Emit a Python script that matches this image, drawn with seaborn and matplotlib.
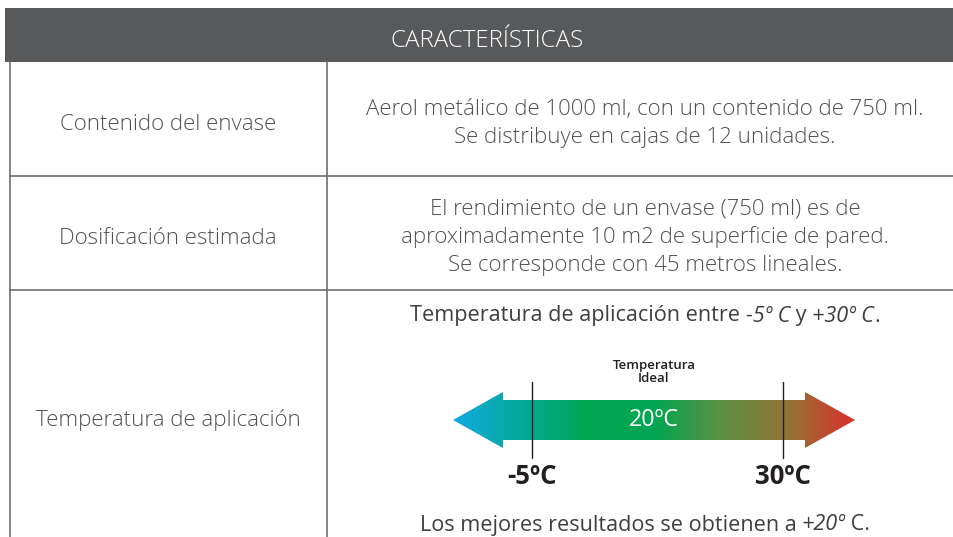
import matplotlib
matplotlib.use("Agg")
import matplotlib.pyplot as plt
import numpy as np
import seaborn as sns
from matplotlib.patches import Polygon, Rectangle

# datos de la tabla
encabezado = "CARACTERÍSTICAS"
filas = ["Contenido del envase", "Dosificación estimada", "Temperatura de aplicación"]
detalle_envase = ["Aerol metálico de 1000 ml, con un contenido de 750 ml.",
                  "Se distribuye en cajas de 12 unidades."]
detalle_dosis = ["El rendimiento de un envase (750 ml) es de",
                 "aproximadamente 10 m2 de superficie de pared.",
                 "Se corresponde con 45 metros lineales."]
temp_min = -5
temp_max = 30
temp_ideal = 20
etiqueta_ideal = "Temperatura\nIdeal"
colores_flecha = ["#12aae3", "#06a89a", "#00a651", "#00a651", "#5c9145", "#937437", "#d9312b"]

sns.set_theme(style="white")
plt.rcParams['font.family'] = ['Open Sans', 'DejaVu Sans']

gris_linea = "#6d6e70"
gris_texto = "#505153"
oscuro = "#3f3f41"
fs = 16

fig = plt.figure(figsize=(9.54, 5.37), dpi=100)
ax = fig.add_axes([0, 0, 1, 1])
ax.set_xlim(0, 954)
ax.set_ylim(537, 0)
ax.axis("off")

# encabezado
ax.add_patch(Rectangle((5, 8), 960, 54, color="#58595b", lw=0))
ax.text(487, 41, encabezado, color="white", fontsize=17.4, fontweight="light",
        ha="center", va="center")

# líneas de la tabla
lw = 1.2
ax.plot([10, 10], [62, 537], color=gris_linea, lw=lw)
ax.plot([327, 327], [62, 537], color=gris_linea, lw=lw)
for y in [176, 290]:
    ax.plot([10, 954], [y, y], color=gris_linea, lw=lw)

# columna izquierda
for nombre, y in zip(filas, [124, 238, 420]):
    ax.text(168, y, nombre, color=gris_texto, fontsize=fs, fontweight="light",
            ha="center", va="center")

# columna derecha
for i, linea in enumerate(detalle_envase):
    ax.text(645, 109 + i * 29, linea, color=gris_texto, fontsize=fs, fontweight="light",
            ha="center", va="center")
for i, linea in enumerate(detalle_dosis):
    ax.text(645, 209 + i * 28.5, linea, color=gris_texto, fontsize=fs, fontweight="light",
            ha="center", va="center")


def texto_mixto(cx, y, partes, **kw):
    # dibuja trozos normal/cursiva centrados en cx
    fig.canvas.draw()
    r = fig.canvas.get_renderer()
    objs = []
    for txt, est in partes:
        t = ax.text(0, y, txt, style=est, ha="left", va="center", **kw)
        objs.append(t)
    anchos = []
    inv = ax.transData.inverted()
    for t in objs:
        bb = t.get_window_extent(r)
        x0 = inv.transform((bb.x0, bb.y0))[0]
        x1 = inv.transform((bb.x1, bb.y0))[0]
        anchos.append(x1 - x0)
    x = cx - sum(anchos) / 2
    for t, w in zip(objs, anchos):
        t.set_x(x)
        x += w


texto_mixto(645, 316, [("Temperatura de aplicación entre ", "normal"), (f"{temp_min}º C", "italic"),
                      (" y ", "normal"), (f"+{temp_max}º C", "italic"), (".", "normal")],
            color=oscuro, fontsize=15.6)
texto_mixto(645, 525, [("Los mejores resultados se obtienen a ", "normal"), (f"+{temp_ideal}º", "italic"),
                      (" C.", "normal")],
            color=oscuro, fontsize=15.6)

# flecha de temperatura
x_izq, x_der = 453, 855
y_c = 420
pix_min, pix_max = 532, 783


def a_pixel(t):
    return pix_min + (t - temp_min) * (pix_max - pix_min) / (temp_max - temp_min)


forma = np.array([[x_izq, y_c], [503, 392], [503, 400], [805, 400], [805, 392], [x_der, y_c],
                  [805, 448], [805, 440], [503, 440], [503, 448]])
poly = Polygon(forma, closed=True, facecolor="none", edgecolor="none")
ax.add_patch(poly)
cmap = sns.blend_palette(colores_flecha, as_cmap=True)
grad = np.linspace(0, 1, 400).reshape(1, -1)
img = ax.imshow(grad, cmap=cmap, extent=[x_izq, x_der, 448, 392], aspect="auto", zorder=2)
img.set_clip_path(poly)
ax.set_xlim(0, 954)
ax.set_ylim(537, 0)

for t in [temp_min, temp_max]:
    xp = a_pixel(t)
    ax.plot([xp, xp], [382, 458], color="#231f20", lw=1.0, zorder=3)
    ax.text(xp, 476, f"{t}ºC", color="#231f20", fontsize=18.5, fontweight="bold",
            ha="center", va="center", zorder=3)

centro = (x_izq + x_der) / 2
ax.text(centro, 420, f"{temp_ideal}ºC", color="white", fontsize=16.8, ha="center", va="center", zorder=4)
ax.text(centro, 372, etiqueta_ideal, color="#231f20", fontsize=9.5, fontweight="semibold",
        ha="center", va="center", linespacing=1.05)

fig.savefig("out.png", dpi=100)
